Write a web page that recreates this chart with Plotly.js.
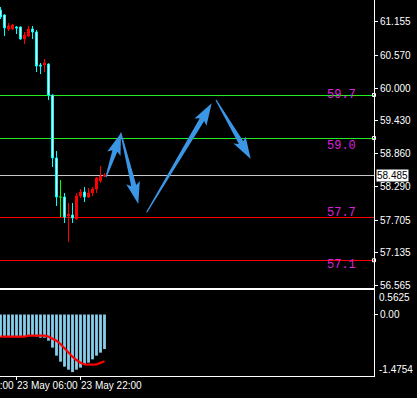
<!DOCTYPE html>
<html><head><meta charset="utf-8">
<script src="https://cdn.plot.ly/plotly-3.0.1.min.js"></script>
<style>html,body{margin:0;padding:0;background:#000;overflow:hidden}#c{width:417px;height:398px}
.layer-below .shapelayer path{shape-rendering:crispEdges}</style>
</head><body><div id="c"></div>
<script>
// ---- data ----
const bars = Array.from({length:27},(_,i)=>i); // hourly bars, 23 May 02:00 ... 24 May 04:00
const open  = [61.358,61.272,61.028,61.028,61.063,61.063,60.854,60.906,61.028,60.976,60.402,60.402,60.419,59.880,58.785,58.106,58.106,57.776,57.793,57.724,58.124,58.193,58.106,58.176,58.245,58.384,58.470];
const high  = [61.410,61.289,61.132,61.115,61.080,61.070,60.976,61.080,61.080,61.010,60.437,60.506,60.430,59.890,58.906,58.402,58.176,58.002,58.002,58.176,58.245,58.280,58.263,58.280,58.454,58.645,58.520];
const low   = [61.202,60.906,60.993,61.010,60.941,60.840,60.767,60.889,60.854,60.280,60.245,60.280,59.793,58.628,57.950,57.758,57.654,57.324,57.654,57.710,58.089,58.019,58.089,58.124,58.176,58.350,58.455];
const close = [61.237,61.046,61.080,61.098,61.046,60.854,60.924,61.028,60.976,60.385,60.385,60.437,59.880,58.785,58.106,58.106,57.758,57.811,57.741,58.124,58.193,58.106,58.176,58.245,58.437,58.471,58.485];
const hist   = [-0.56,-0.56,-0.56,-0.56,-0.56,-0.56,-0.55,-0.54,-0.53,-0.55,-0.58,-0.58,-0.654,-0.829,-1.029,-1.179,-1.304,-1.379,-1.44,-1.379,-1.329,-1.263,-1.204,-1.121,-1.029,-0.954,-0.863];
const signal = [-0.554,-0.554,-0.554,-0.554,-0.554,-0.554,-0.554,-0.529,-0.521,-0.529,-0.529,-0.529,-0.554,-0.596,-0.654,-0.738,-0.846,-0.954,-1.054,-1.138,-1.204,-1.246,-1.254,-1.254,-1.246,-1.204,-1.171];
const priceTicks = [61.155,60.570,60.000,59.430,58.860,58.290,57.705,57.135,56.565];
const subTicks = [0.5625, 0, -1.4754];
const subTickText = ["0.5625","0.00","-1.4754"];
const timeTickIdx = [-12, 4, 20];
const timeTickText = ["22 May 14:00","23 May 06:00","23 May 22:00"];
const levels = [59.880, 59.132, 57.758, 57.006];
const levelColors = ['#22ee22','#22ee22','#ff0000','#ff0000'];
const levelSelected = [true,true,false,true];
const textLabels = ["59.7","59.0","57.7","57.1"];
const textLabelY = [59.880, 58.993, 57.828, 56.924];
// arrows: [tailX, tailPrice, tipX, tipPrice]
const arrows = [[26.375,58.454,30.125,59.219],[30.05,59.225,34.45,57.985],[36.55,57.84,52.8,59.736],[53.875,59.793,62.55,58.767]];

// ---- geometry ----
const PW = 374, MAINH = 288;
const xr = [-0.125, 93.375];
const yr = [56.5237, 61.5324];
const y2r = [-1.5375, 0.6125];
const toPx = (x,y)=>[(x-xr[0])/(xr[1]-xr[0])*PW, (yr[1]-y)/(yr[1]-yr[0])*MAINH];
const toData = (px,py)=>[xr[0]+px/PW*(xr[1]-xr[0]), yr[1]-py/MAINH*(yr[1]-yr[0])];

function arrowPath(a){
  const T = toPx(a[0],a[1]), P = toPx(a[2],a[3]);
  const dx=P[0]-T[0], dy=P[1]-T[1], L=Math.hypot(dx,dy);
  const u=[dx/L,dy/L], n=[-u[1],u[0]];
  const hl=Math.min(19, L*0.45), hw=7, sw=2.6, tw=0.6;
  const B=[P[0]-u[0]*hl, P[1]-u[1]*hl];
  const pts=[
    [T[0]+n[0]*tw, T[1]+n[1]*tw],
    [B[0]+n[0]*sw, B[1]+n[1]*sw],
    [B[0]+n[0]*hw-u[0]*3, B[1]+n[1]*hw-u[1]*3],
    P,
    [B[0]-n[0]*hw-u[0]*3, B[1]-n[1]*hw-u[1]*3],
    [B[0]-n[0]*sw, B[1]-n[1]*sw],
    [T[0]-n[0]*tw, T[1]-n[1]*tw]
  ].map(p=>toData(p[0],p[1]));
  return 'M'+pts.map(p=>p[0]+','+p[1]).join(' L')+' Z';
}

const isDoji = bars.map(i=>open[i]===close[i]);
const pick = (arr,cond)=>arr.map((v,i)=>cond[i]?v:null);
const notDoji = isDoji.map(b=>!b);

const font = {family:'"Liberation Sans", Arial, sans-serif', size:10, color:'#ffffff'};

const traces = [
  {type:'candlestick', x:bars, open:pick(open,notDoji), high:pick(high,notDoji), low:pick(low,notDoji), close:pick(close,notDoji),
   xaxis:'x', yaxis:'y', whiskerwidth:0,
   increasing:{line:{color:'#ff0000',width:1}, fillcolor:'#ff0000'},
   decreasing:{line:{color:'#00ffff',width:1}, fillcolor:'#ffffff'}, hoverinfo:'none'},
  {type:'candlestick', x:bars, open:pick(open,isDoji), high:pick(high,isDoji), low:pick(low,isDoji), close:pick(close,isDoji),
   xaxis:'x', yaxis:'y', whiskerwidth:0,
   increasing:{line:{color:'#00ff00',width:1}, fillcolor:'#00ff00'},
   decreasing:{line:{color:'#00ff00',width:1}, fillcolor:'#00ff00'}, hoverinfo:'none'},
  {type:'scatter', mode:'markers', x:levels.filter((l,i)=>levelSelected[i]).map(()=>xr[1]), y:levels.filter((l,i)=>levelSelected[i]),
   xaxis:'x', yaxis:'y', cliponaxis:false, marker:{symbol:'square-open', size:3, color:'#ffffff', line:{width:1,color:'#ffffff'}}, hoverinfo:'none'},
  {type:'bar', x:bars, y:hist, xaxis:'x2', yaxis:'y2', marker:{color:'#87ceeb', line:{width:0}}, hoverinfo:'none'},
  {type:'scatter', mode:'lines', x:bars, y:signal, xaxis:'x2', yaxis:'y2', line:{color:'#ff0000', width:2.2}, hoverinfo:'none'}
];

const shapes = [];
levels.forEach((l,i)=>shapes.push({type:'line', xref:'paper', x0:0, x1:1, yref:'y', y0:l, y1:l, line:{color:levelColors[i], width:1}, layer:'below'}));
shapes.push({type:'line', xref:'paper', x0:0, x1:1, yref:'y', y0:close[close.length-1], y1:close[close.length-1], line:{color:'#c8c8c8', width:1}, layer:'below'});
arrows.forEach(a=>shapes.push({type:'path', xref:'x', yref:'y', path:arrowPath(a), fillcolor:'#3c96e6', line:{width:0}, layer:'above'}));

const annotations = [];
textLabels.forEach((t,i)=>annotations.push({xref:'paper', x:358/PW, xanchor:'right', yref:'y', y:textLabelY[i], yanchor:'middle',
  text:t, showarrow:false, font:{family:'"Liberation Mono", "DejaVu Sans Mono", monospace', size:12, color:'#dd22dd'}}));
annotations.push({xref:'paper', x:1, xanchor:'left', xshift:2, yref:'y', y:close[close.length-1], yanchor:'middle',
  text:close[close.length-1].toFixed(3), showarrow:false, bgcolor:'#ffffff', borderpad:0, font:{family:font.family, size:10, color:'#000000'}});
timeTickIdx.forEach((t,i)=>annotations.push({xref:'paper', x:(t-xr[0])/(xr[1]-xr[0]), xanchor:'left', xshift:-2, yref:'paper', y:0, yanchor:'top', yshift:-2,
  text:timeTickText[i], showarrow:false, font:font}));
subTicks.forEach((v,i)=>{ if(v!==0) annotations.push({xref:'paper', x:1, xanchor:'left', xshift:3, yref:'y2', y:v, yanchor:'middle', yshift:(v>0?-5:4),
  text:subTickText[i], showarrow:false, font:font}); });

const layout = {
  width:417, height:398, margin:{l:0,r:43,t:0,b:22},
  paper_bgcolor:'#000000', plot_bgcolor:'#000000', showlegend:false, font:font,
  bargap:0.3, boxgap:0.3,
  xaxis:{domain:[0,1], range:xr, anchor:'y', showgrid:false, zeroline:false, showticklabels:false, ticks:'',
         showline:true, linecolor:'#ffffff', linewidth:1, rangeslider:{visible:false}, fixedrange:true},
  yaxis:{domain:[1-MAINH/376,1], range:yr, anchor:'x', side:'right', showgrid:false, zeroline:false,
         tickvals:priceTicks, ticktext:priceTicks.map(v=>v.toFixed(3)), ticks:'outside', ticklen:3, tickcolor:'#ffffff',
         showline:true, linecolor:'#ffffff', linewidth:1, tickfont:font},
  xaxis2:{domain:[0,1], range:xr, anchor:'y2', showgrid:false, zeroline:false, showticklabels:false,
          tickvals:timeTickIdx, ticks:'outside', ticklen:3, tickcolor:'#ffffff',
          showline:true, mirror:true, linecolor:'#ffffff', linewidth:1},
  yaxis2:{domain:[0,86/376], range:y2r, anchor:'x2', side:'right', showgrid:false, zeroline:false,
          tickvals:[0], ticktext:['0.00'], ticks:'outside', ticklen:3, tickcolor:'#ffffff',
          showline:true, linecolor:'#ffffff', linewidth:1, tickfont:font},
  shapes:shapes, annotations:annotations
};
Plotly.newPlot('c', traces, layout, {staticPlot:true, displayModeBar:false});
</script></body></html>
